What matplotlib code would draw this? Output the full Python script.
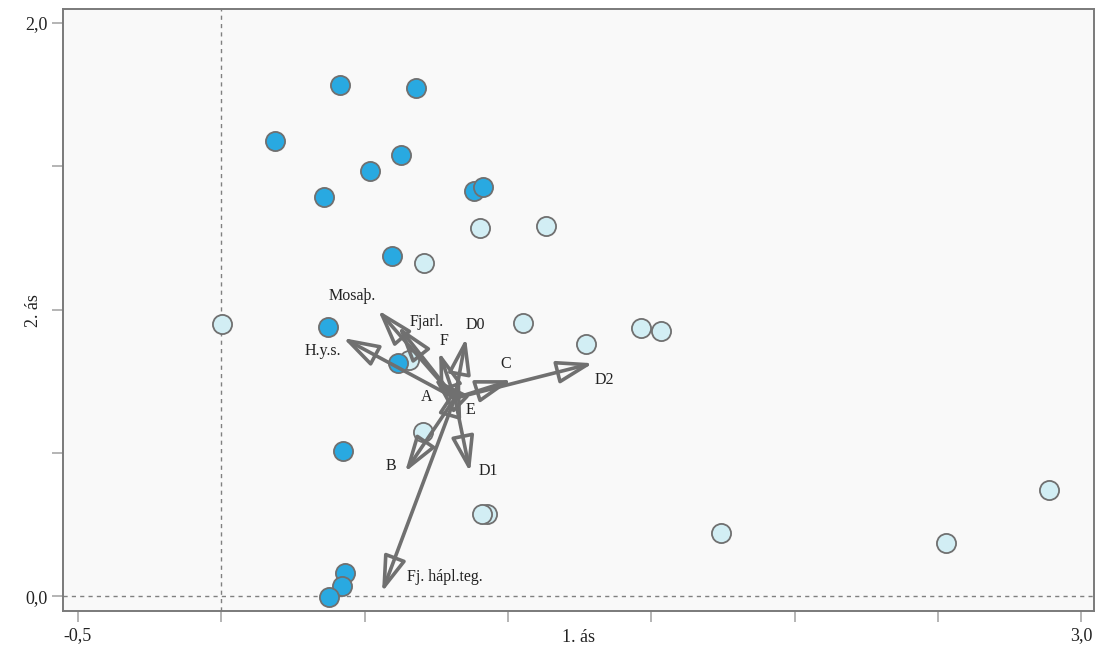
import matplotlib.pyplot as plt

# Ordination scores (1. ás, 2. ás)
light_x = [0.903, 1.133, 0.707, 0.002, 1.053, 1.273, 1.464, 1.534, 0.655, 0.704, 0.927, 0.910, 1.744, 2.529, 2.888]
light_y = [1.284, 1.291, 1.162, 0.949, 0.953, 0.880, 0.935, 0.925, 0.824, 0.572, 0.286, 0.286, 0.220, 0.185, 0.370]

dark_x = [0.414, 0.679, 0.187, 0.627, 0.519, 0.358, 0.882, 0.913, 0.596, 0.372, 0.617, 0.425, 0.432, 0.421, 0.376]
dark_y = [1.784, 1.773, 1.588, 1.539, 1.483, 1.393, 1.414, 1.428, 1.187, 0.939, 0.813, 0.506, 0.080, 0.035, -0.003]

# Environmental variable vectors
origin = (0.815, 0.691)
var_names = ["Mosaþ.", "Fjarl.", "H.y.s.", "F", "D0", "C", "D2", "A", "E", "B", "D1", "Fj. hápl.teg."]
var_x = [0.547, 0.617, 0.425, 0.760, 0.854, 1.014, 1.297, 0.742, 0.833, 0.641, 0.868, 0.561]
var_y = [0.998, 0.942, 0.901, 0.852, 0.901, 0.754, 0.813, 0.761, 0.754, 0.433, 0.433, 0.014]
label_x = [0.456, 0.718, 0.355, 0.777, 0.885, 0.993, 1.335, 0.718, 0.868, 0.592, 0.931, 0.781]
label_y = [1.047, 0.956, 0.855, 0.890, 0.946, 0.810, 0.754, 0.695, 0.649, 0.454, 0.436, 0.066]

xticks = [-0.5, 0.0, 0.5, 1.0, 1.5, 2.0, 2.5, 3.0]
xticklabels = ["-0,5", "", "", "", "", "", "", "3,0"]
yticks = [0.0, 0.5, 1.0, 1.5, 2.0]
yticklabels = ["0,0", "", "", "", "2,0"]

plt.rcParams['font.family'] = ['Liberation Serif', 'DejaVu Serif']

fig = plt.figure(figsize=(10.96, 6.48), dpi=100)
ax = fig.add_axes([0.0578, 0.057, 0.9404, 0.9286])
ax.set_facecolor('#f9f9f9')

ax.axhline(0, color='#808080', lw=1, ls=(0, (3, 3)), zorder=1)
ax.axvline(0, color='#808080', lw=1, ls=(0, (3, 3)), zorder=1)

ax.scatter(light_x, light_y, s=190, c='#d2eef4', edgecolors='#707070', linewidths=1.3, zorder=3)
ax.scatter(dark_x, dark_y, s=190, c='#29a9e1', edgecolors='#707070', linewidths=1.3, zorder=3)

for name, x, y, lx, ly in zip(var_names, var_x, var_y, label_x, label_y):
    ax.annotate("", xy=(x, y), xytext=origin,
                arrowprops=dict(arrowstyle="-|>,head_length=2.2,head_width=0.7",
                                fc='none', ec='#707070', lw=2.6,
                                shrinkA=0, shrinkB=0, mutation_scale=10),
                zorder=4)
    ax.text(lx, ly, name, fontsize=11.5, ha='center', va='center', color='#222222', zorder=5)

ax.set_xlim(-0.551, 3.045)
ax.set_ylim(-0.052, 2.048)
ax.set_xticks(xticks)
ax.set_xticklabels(xticklabels)
ax.set_yticks(yticks)
ax.set_yticklabels(yticklabels)
ax.tick_params(length=8, width=1.2, color='#a8a8a8', labelsize=13, labelcolor='#222222')

for sp in ax.spines.values():
    sp.set_color('#7a7a7a')
    sp.set_linewidth(1.4)

ax.set_xlabel("1. ás", fontsize=13, color='#222222')
ax.set_ylabel("2. ás", fontsize=13, color='#222222')
ax.xaxis.set_label_coords(0.5, -0.030)
ax.yaxis.set_label_coords(-0.021, 0.5)

fig.savefig("out.png")
